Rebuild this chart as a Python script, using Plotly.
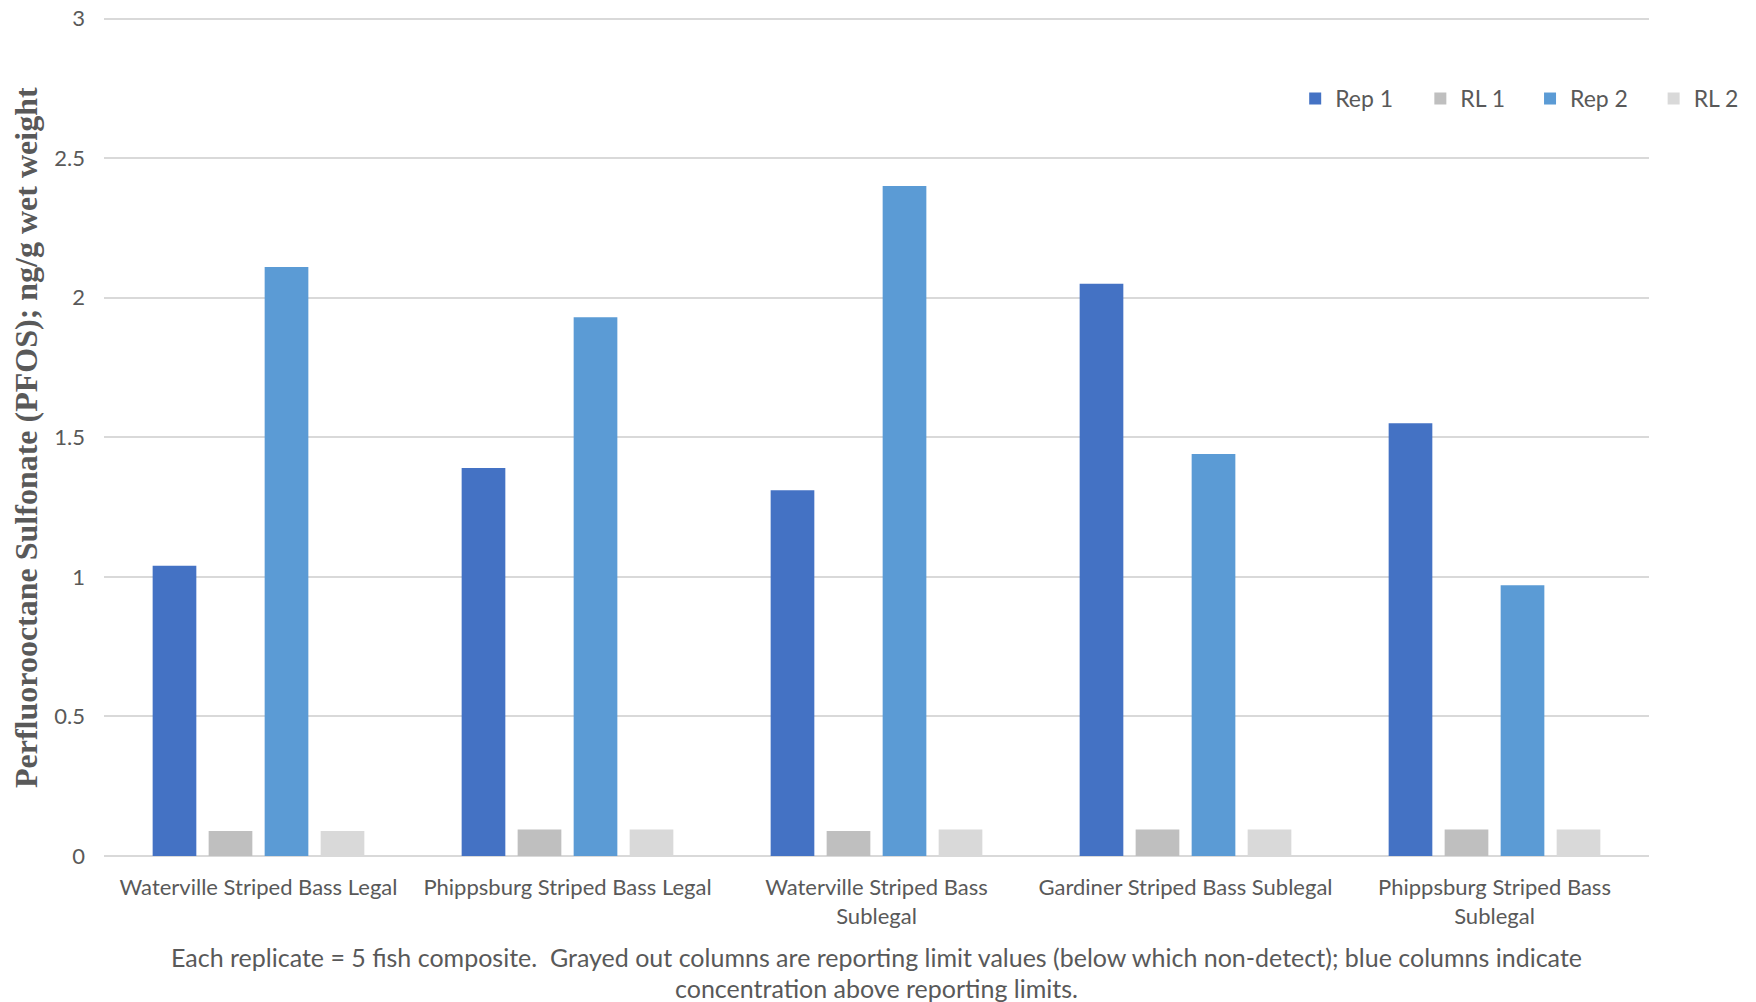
import plotly.graph_objects as go

# PFOS concentration in striped bass composites (ng/g wet weight)
categories = [
    "Waterville Striped Bass Legal",
    "Phippsburg Striped Bass Legal",
    "Waterville Striped Bass<br>Sublegal",
    "Gardiner Striped Bass Sublegal",
    "Phippsburg Striped Bass<br>Sublegal",
]
rep1 = [1.04, 1.39, 1.31, 2.05, 1.55]
rl1 = [0.09, 0.095, 0.09, 0.095, 0.095]
rep2 = [2.11, 1.93, 2.40, 1.44, 0.97]
rl2 = [0.09, 0.095, 0.095, 0.095, 0.095]

series_names = ["Rep 1", "RL 1", "Rep 2", "RL 2"]
series_values = [rep1, rl1, rep2, rl2]
series_colors = ["#4472C4", "#BFBFBF", "#5B9BD5", "#D9D9D9"]
legend_ids = ["legend", "legend2", "legend3", "legend4"]
legend_x = [0.771, 0.852, 0.923, 1.003]

y_ticks = [0, 0.5, 1, 1.5, 2, 2.5, 3]
y_tick_text = ["0", "0.5", "1", "1.5", "2", "2.5", "3"]

footnote_1 = ("Each replicate = 5 fish composite.  Grayed out columns are reporting limit values "
              "(below which non-detect); blue columns indicate")
footnote_2 = "concentration above reporting limits."

TEXT_GREY = "#595959"
FONT = "Lato"

fig = go.Figure()
for name, vals, color, lg in zip(series_names, series_values, series_colors, legend_ids):
    fig.add_trace(go.Bar(
        name=name, x=categories, y=vals,
        marker=dict(color=color, line=dict(width=0)),
        legend=lg,
    ))

legend_common = dict(
    orientation="h", yanchor="middle", xanchor="left", y=0.8985,
    font=dict(family=FONT, size=23, color=TEXT_GREY),
    bgcolor="rgba(0,0,0,0)", borderwidth=0,
)
layout_legends = {}
for lg, lx in zip(legend_ids, legend_x):
    layout_legends[lg] = dict(legend_common, x=lx)

fig.update_layout(
    width=1756, height=1002,
    margin=dict(l=104, r=107, t=13, b=146, autoexpand=False),
    paper_bgcolor="white", plot_bgcolor="white",
    barmode="group", bargap=0.275, bargroupgap=0.22,
    showlegend=True,
    font=dict(family=FONT, size=22, color=TEXT_GREY),
    xaxis=dict(
        showgrid=False, showline=False, ticks="", zeroline=False,
        tickfont=dict(family=FONT, size=22, color=TEXT_GREY),
        ticklabelstandoff=16,
    ),
    yaxis=dict(
        range=[0, 3.02], tickvals=y_ticks, ticktext=y_tick_text,
        showgrid=True, gridcolor="#D9D9D9", gridwidth=1.5,
        zeroline=True, zerolinecolor="#D9D9D9", zerolinewidth=2,
        showline=False, ticks="",
        tickfont=dict(family=FONT, size=22, color=TEXT_GREY),
        ticklabelstandoff=18,
    ),
    **layout_legends,
)

# Vertical axis title in a bold serif
fig.add_annotation(
    text="Perfluorooctane Sulfonate (PFOS); ng/g wet weight",
    xref="paper", yref="paper", x=-0.0505, y=0.497,
    xanchor="center", yanchor="middle", textangle=-90, showarrow=False,
    font=dict(family="Liberation Serif", size=32, color=TEXT_GREY, weight="bold"),
)

# Two-line footnote under the category labels
fig.add_annotation(
    text=footnote_1, xref="paper", yref="paper", x=0.5, y=-0.1203,
    xanchor="center", yanchor="middle", showarrow=False,
    font=dict(family=FONT, size=25, color=TEXT_GREY),
)
fig.add_annotation(
    text=footnote_2, xref="paper", yref="paper", x=0.5, y=-0.1567,
    xanchor="center", yanchor="middle", showarrow=False,
    font=dict(family=FONT, size=25, color=TEXT_GREY),
)

fig.write_html("out.html")
